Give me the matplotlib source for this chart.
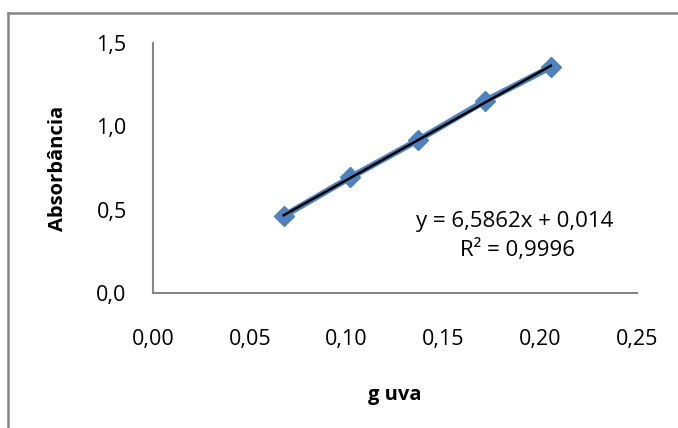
import numpy as np
import matplotlib.pyplot as plt
from matplotlib.lines import Line2D

# data
g_uva = [0.0675, 0.1020, 0.1370, 0.1715, 0.2055]
absorbancia = [0.462, 0.694, 0.918, 1.152, 1.356]
x_ticks = [0.00, 0.05, 0.10, 0.15, 0.20, 0.25]
y_ticks = [0.0, 0.5, 1.0, 1.5]
eq_text = "y = 6,5862x + 0,014"
r2_text = "R² = 0,9996"

plt.rcParams['font.family'] = ['Open Sans', 'DejaVu Sans']

fig = plt.figure(figsize=(6.78, 4.28), dpi=100)
ax = fig.add_axes([0.2257, 0.3154, 0.7138, 0.5841])

ax.plot(g_uva, absorbancia, color='#4F81BD', linewidth=4.5, marker='D',
        markersize=10, markerfacecolor='#4F81BD', markeredgecolor='#4F81BD',
        zorder=2)

# linear trendline over the data range
slope, intercept = np.polyfit(g_uva, absorbancia, 1)
xs = np.array([min(g_uva), max(g_uva)])
ax.plot(xs, slope * xs + intercept, color='black', linewidth=1.8, zorder=3)

ax.set_xlim(0, 0.25)
ax.set_ylim(0, 1.5)
ax.set_xticks(x_ticks)
ax.set_yticks(y_ticks)
ax.set_xticklabels([f"{v:.2f}".replace('.', ',') for v in x_ticks])
ax.set_yticklabels([f"{v:.1f}".replace('.', ',') for v in y_ticks])
ax.tick_params(axis='x', length=0, pad=26, labelsize=15.5, colors='black')
ax.tick_params(axis='y', length=0, pad=19, labelsize=15.5, colors='black')

for side in ['top', 'right']:
    ax.spines[side].set_visible(False)
for side in ['left', 'bottom']:
    ax.spines[side].set_color('#868686')
    ax.spines[side].set_linewidth(1.5)

fig.text(395 / 678, 1 - 395 / 428, "g uva", fontsize=14.5, fontweight='bold',
         ha='center', va='center')
fig.text(58 / 678, 1 - 168 / 428, "Absorbância", fontsize=14.5, fontweight='bold',
         ha='center', va='center', rotation=90)

fig.text(515 / 678, 1 - 222 / 428, eq_text, fontsize=16, ha='center', va='center')
fig.text(517 / 678, 1 - 250 / 428, r2_text, fontsize=16, ha='center', va='center')

# chart area border (only top and left edges visible in the crop)
fig.add_artist(Line2D([8 / 678, 8 / 678], [0, 1 - 13 / 428], transform=fig.transFigure,
                      color='#868686', linewidth=1.8))
fig.add_artist(Line2D([8 / 678, 1], [1 - 13 / 428, 1 - 13 / 428], transform=fig.transFigure,
                      color='#868686', linewidth=1.8))

fig.savefig('out.png', dpi=100)
